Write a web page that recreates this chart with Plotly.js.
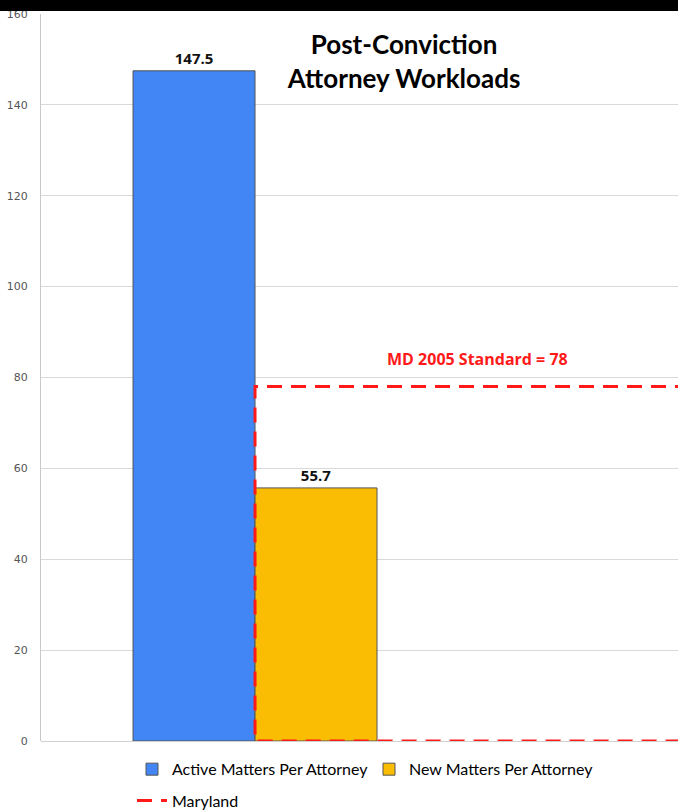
<!DOCTYPE html>
<html>
<head>
<meta charset="utf-8">
<script src="https://cdn.plot.ly/plotly-3.0.1.min.js"></script>
<style>html,body{margin:0;padding:0;background:#fff;}#chart{width:678px;height:810px;}</style>
</head>
<body>
<div id="chart"></div>
<script>
// ---- data ----
const categories = ['Maryland'];
const activeMatters = [147.5];
const newMatters = [55.7];
const standardValue = 78;
const seriesNames = ['Active Matters Per Attorney', 'New Matters Per Attorney', 'Maryland'];
const yTicks = [0, 20, 40, 60, 80, 100, 120, 140, 160];
const titleText = 'Post-Conviction<br>Attorney Workloads';
const standardLabel = 'MD 2005 Standard = ' + standardValue;

const catIdx = categories.map((c, i) => i);
const xStart = catIdx[0];      // standard starts at the group centre
const xEnd = catIdx[0] + 3;    // extends beyond the right edge (clipped)

const labelFont = {family: 'Open Sans', size: 15, color: '#111', weight: 'bold'};

const traces = [
  {
    type: 'bar', x: catIdx, y: activeMatters, name: seriesNames[0],
    marker: {color: '#4285F4', line: {color: '#555', width: 1}},
    text: activeMatters.map(v => v.toFixed(1)), textposition: 'outside',
    textfont: labelFont, cliponaxis: false, legend: 'legend'
  },
  {
    type: 'bar', x: catIdx, y: newMatters, name: seriesNames[1],
    marker: {color: '#FBBC04', line: {color: '#555', width: 1}},
    text: newMatters.map(v => v.toFixed(1)), textposition: 'outside',
    textfont: labelFont, cliponaxis: false, legend: 'legend'
  },
  {
    type: 'scatter', mode: 'lines', name: seriesNames[2],
    x: [xEnd, xStart, xStart, xEnd],
    y: [standardValue, standardValue, 0, 0],
    line: {color: '#FF1A1A', width: 3, dash: '15px,9px'},
    legend: 'legend2', hoverinfo: 'skip'
  }
];

const plotW = 637;
const legendFont = {family: 'Lato', size: 16, color: '#000'};
const layout = {
  width: 678, height: 810,
  margin: {l: 41, r: 0, t: 14, b: 69, autoexpand: false},
  paper_bgcolor: '#fff', plot_bgcolor: '#fff',
  barmode: 'group', bargap: 0.2, bargroupgap: 0,
  showlegend: true,
  title: {
    text: titleText, x: 0.596, xanchor: 'center', y: 0.933, yanchor: 'middle',
    font: {family: 'Lato', size: 26, color: '#000', weight: 'bold'}
  },
  xaxis: {
    range: [-0.7017, 1.3868], showticklabels: false, showgrid: false,
    zeroline: false, showline: false, ticks: '', fixedrange: true
  },
  yaxis: {
    range: [0, 160], tickvals: yTicks, ticktext: yTicks.map(String),
    showgrid: true, gridcolor: '#D9D9D9', gridwidth: 1,
    zeroline: true, zerolinecolor: '#D0D0D0', zerolinewidth: 1,
    showline: true, linecolor: '#C8C8C8', linewidth: 1,
    ticks: '', ticklabelstandoff: 10,
    tickfont: {family: 'DejaVu Sans', size: 11, color: '#555'}
  },
  legend: {
    orientation: 'h', x: (132 - 41) / plotW, xanchor: 'left',
    y: -0.0155, yanchor: 'top', entrywidth: 192,
    font: legendFont, bgcolor: 'rgba(0,0,0,0)', traceorder: 'normal'
  },
  legend2: {
    orientation: 'h', x: (132 - 41) / plotW, xanchor: 'left',
    y: -0.0585, yanchor: 'top',
    font: legendFont, bgcolor: 'rgba(0,0,0,0)', itemwidth: 30
  },
  annotations: [
    {
      xref: 'x', yref: 'y', x: 0.731, y: standardValue, yanchor: 'bottom', yshift: 15,
      text: standardLabel, showarrow: false,
      font: {family: 'Open Sans', size: 16, color: '#FF1A1A', weight: 'bold'}
    }
  ],
  shapes: [
    {type: 'rect', xref: 'paper', yref: 'paper', x0: -0.1, x1: 1.1,
     y0: 1 + 3 / 727, y1: 1 + 20 / 727, fillcolor: '#000', line: {width: 0}, layer: 'above'}
  ]
};

Plotly.newPlot('chart', traces, layout, {displayModeBar: false, staticPlot: true});
</script>
</body>
</html>
